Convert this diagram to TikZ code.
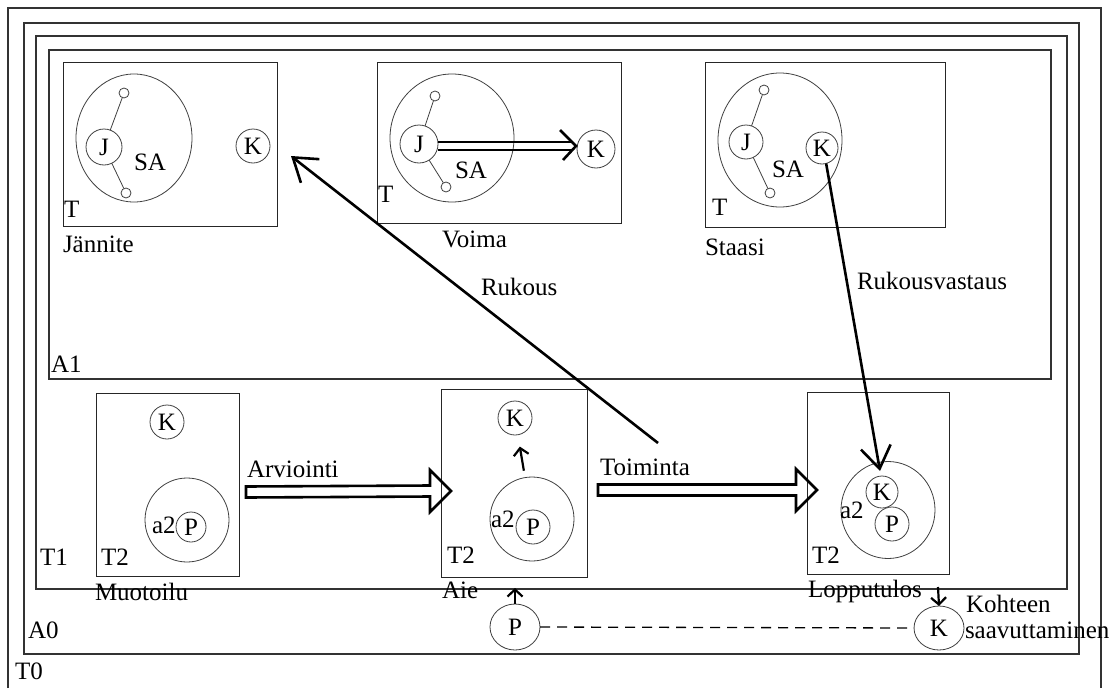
\documentclass[tikz,border=0pt]{standalone}
\usepackage{fontspec}
\setmainfont{Liberation Serif}
\usetikzlibrary{shapes.geometric,arrows.meta,calc}
\begin{document}
\begin{tikzpicture}[x=1pt,y=-1pt,
  every node/.style={font=\fontsize{25}{27}\selectfont, inner sep=0pt, outer sep=0pt},
  frame/.style={draw=black!80, line width=1.1pt},
  box/.style={draw=black!85, line width=1pt, rectangle},
  ring/.style={draw=black!75, line width=0.8pt, circle},
  oval/.style={draw=black!75, line width=0.8pt, ellipse},
  dot/.style={draw=black!75, line width=0.8pt, circle, minimum size=10pt},
  lbl/.style={anchor=base west},
  stick/.style={draw=black!75, line width=0.8pt},
  bigarr/.style={line width=2.6pt, -{Straight Barb[length=22pt,width=30pt]}},
  smallarr/.style={line width=2.2pt, -{Straight Barb[length=7pt,width=15pt]}},
  dblline/.style={line width=2.6pt},
  block/.style={line width=2.6pt, line join=miter},
  dashline/.style={line width=1.3pt, dash pattern=on 10pt off 7pt}
]
\useasboundingbox (0,0) rectangle (1115,688);
\fill[white] (0,0) rectangle (1115,688);

% nested frames
\draw[frame] (8,688) -- (8,8) -- (1101,8) -- (1101,688);
\draw[frame] (24,23) rectangle (1079,654);
\draw[frame] (36,36) rectangle (1067,589);
\draw[frame] (49,50) rectangle (1051,379);

\node[lbl] at (15,679) {T0};
\node[lbl] at (28,638) {A0};
\node[lbl] at (40,565) {T1};
\node[lbl] at (51,372) {A1};

% ---------- top boxes ----------
% Jannite
\node[box, minimum width=214pt, minimum height=164pt] (jbox) at (170,144) {};
\node[oval, minimum width=116pt, minimum height=128pt] (jell) at (134,138) {};
\node[ring, minimum size=36pt] (jj) at (104,147) {J};
\node[dot] (jt) at (124,93) {};
\node[dot] (jb) at (126,193) {};
\draw[stick] (jj) -- (jt);
\draw[stick] (jj) -- (jb);
\node[ring, minimum size=34pt] (jk) at (253,146) {K};
\node[lbl] at (134,170) {SA};
\node[lbl] at (64,217) {T};
\node[lbl] at (63,252) {Jännite};

% Voima
\node[box, minimum width=244pt, minimum height=161pt] (vbox) at (499,142.5) {};
\node[oval, minimum width=124pt, minimum height=128pt] (vell) at (452,138) {};
\node[ring, minimum size=38pt] (vj) at (419,144) {J};
\node[dot] (vt) at (435,96) {};
\node[dot] (vb) at (446,187) {};
\draw[stick] (vj) -- (vt);
\draw[stick] (vj) -- (vb);
\node[ring, minimum size=38pt] (vk) at (596,149) {K};
\node[lbl] at (455,178) {SA};
\node[lbl] at (378,202) {T};
\node[lbl] at (442,247) {Voima};
\coordinate (vs) at ($(vj.center)+(19,2)$);
\coordinate (ve) at ($(vk.west)+(-1,-3)$);
\draw[dblline] ($(vs)+(0,-4)$) -- ($(ve)+(-5,-4)$);
\draw[dblline] ($(vs)+(0,4)$) -- ($(ve)+(-5,4)$);
\draw[dblline] ($(ve)+(-16,-16)$) -- (ve) -- ($(ve)+(-13,14)$);

% Staasi
\node[box, minimum width=240pt, minimum height=165pt] (sbox) at (825,144.5) {};
\node[oval, minimum width=124pt, minimum height=134pt] (sell) at (780,140) {};
\node[ring, minimum size=34pt] (sj) at (746,142) {J};
\node[dot] (st) at (764,90) {};
\node[dot] (sb) at (770,193) {};
\draw[stick] (sj) -- (st);
\draw[stick] (sj) -- (sb);
\node[ring, minimum size=32pt] (sk) at (822,148) {K};
\node[lbl] at (772,177) {SA};
\node[lbl] at (712,215) {T};
\node[lbl] at (705,255) {Staasi};

% ---------- bottom boxes ----------
% Muotoilu
\node[box, minimum width=143pt, minimum height=183pt] (mbox) at (167.5,484.5) {};
\node[ring, minimum size=34pt] (mk) at (167,422) {K};
\node[ring, minimum size=84pt] (mbig) at (187,520) {};
\node[ring, minimum size=30pt] (mp) at (191,527) {P};
\node[lbl] at (152,533) {a2};
\node[lbl] at (101,565) {T2};
\node[lbl] at (95,600) {Muotoilu};

% Aie
\node[box, minimum width=146pt, minimum height=188pt] (abox) at (514,483) {};
\node[ring, minimum size=34pt] (ak) at (515,418) {K};
\node[ring, minimum size=84pt] (abig) at (532,519) {};
\node[ring, minimum size=34pt] (ap) at (533,527) {P};
\node[lbl] at (491,527) {a2};
\node[lbl] at (447,563) {T2};
\node[lbl] at (442,598) {Aie};
\draw[smallarr, shorten <=7pt, shorten >=12pt] (abig) -- (ak);

% Lopputulos
\node[box, minimum width=142pt, minimum height=182pt] (lbox) at (878,483) {};
\node[oval, minimum width=94pt, minimum height=97pt] (lbig) at (888,510) {};
\node[ring, minimum size=32pt] (lk) at (882,492) {K};
\node[ring, minimum size=34pt] (lp) at (892,524) {P};
\node[lbl] at (840,518) {a2};
\node[lbl] at (812,563) {T2};
\node[lbl] at (808,597) {Lopputulos};

% block arrows
\coordinate (arv1) at (246,492);
\coordinate (arv2) at (451,491);
\draw[block] ($(arv1)+(0,-5.5)$) -- ($(arv2)+(-21,-5.5)$) -- ($(arv2)+(-21,-21)$) -- (arv2)
  -- ($(arv2)+(-21,21)$) -- ($(arv2)+(-21,5.5)$) -- ($(arv1)+(0,5.5)$) -- cycle;
\node[lbl] at (247,477) {Arviointi};

\coordinate (toi1) at (598,490);
\coordinate (toi2) at (817,490);
\draw[block] ($(toi1)+(0,-5.5)$) -- ($(toi2)+(-21,-5.5)$) -- ($(toi2)+(-21,-21)$) -- (toi2)
  -- ($(toi2)+(-21,21)$) -- ($(toi2)+(-21,5.5)$) -- ($(toi1)+(0,5.5)$) -- cycle;
\node[lbl] at (600,475) {Toiminta};

% Rukous
\coordinate (rs) at (658,443);
\coordinate (re) at ($(jbox.east)+(14,12)$);
\draw[bigarr] (rs) -- (re);
\node[lbl] at (481,295) {Rukous};

% Rukousvastaus
\draw[bigarr] (sk.-75) -- ($(lk.north)+(-2,-5)$);
\node[lbl] at (857,289) {Rukousvastaus};

% bottom row
\node[oval, minimum width=50pt, minimum height=46pt] (pb) at (515,627) {P};
\node[oval, minimum width=50pt, minimum height=44pt] (kb) at (939,628) {K};
\draw[dashline] (pb.east) -- (kb.west);
\draw[smallarr, shorten >=11pt] (pb.north) -- (pb.north |- abox.south);
\coordinate (lend) at (938,587);
\draw[smallarr] (lend) -- (kb.north);
\node[lbl] at (966,612) {Kohteen};
\node[lbl] at (965,638) {saavuttaminen};
\end{tikzpicture}
\end{document}
